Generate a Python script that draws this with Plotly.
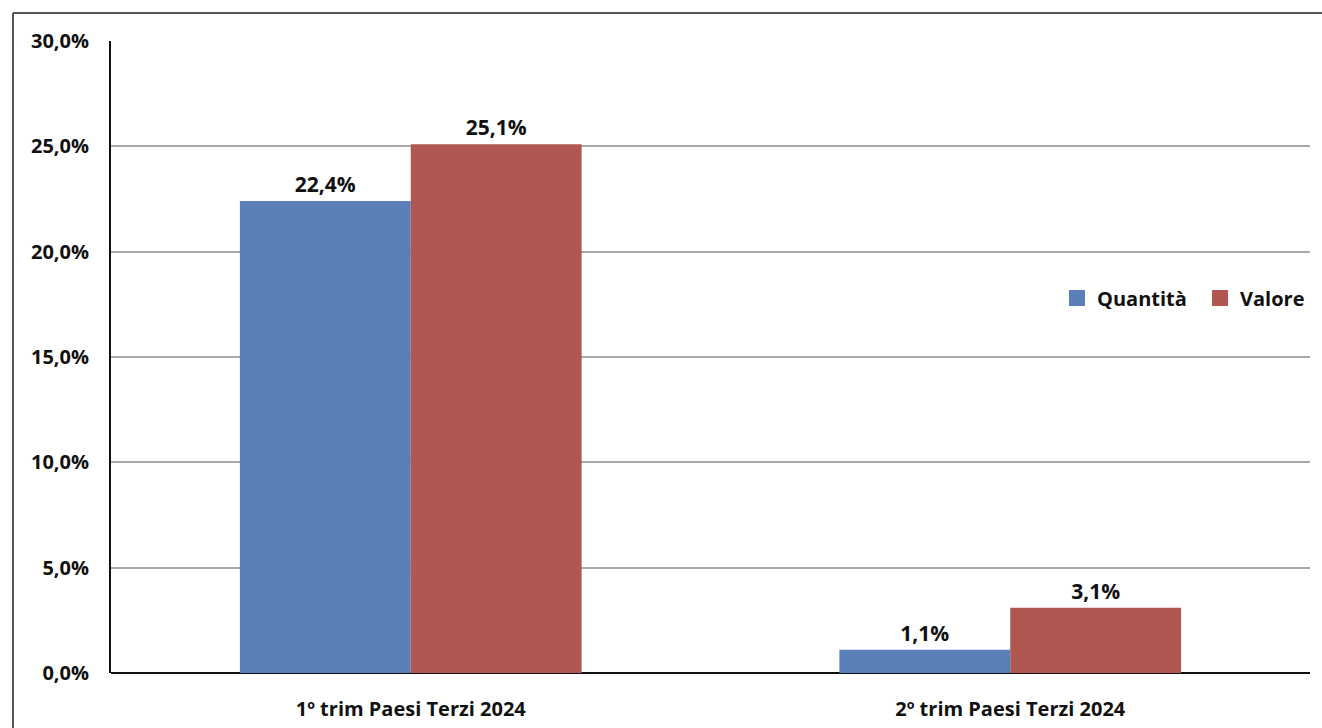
import plotly.graph_objects as go

# Variazione tendenziale export verso Paesi Terzi
categorie = ["1º trim Paesi Terzi 2024", "2º trim Paesi Terzi 2024"]
quantita = [22.4, 1.1]
valore = [25.1, 3.1]
y_ticks = [0, 5, 10, 15, 20, 25, 30]
y_tick_text = [f"{v:.1f}%".replace(".", ",") for v in y_ticks]

serie = [("Quantità", quantita, "#5B7FB8"), ("Valore", valore, "#AF5751")]

W, H = 1322, 728
L, R, T, B = 111, 12, 41, 55
pw, ph = W - L - R, H - T - B

font_fam = "Open Sans"
txt = dict(family=font_fam, size=20, color="#111111", weight="bold")
label_font = dict(family=font_fam, size=21, color="#111111", weight="bold")

fig = go.Figure()
for nome, valori, colore in serie:
    fig.add_trace(go.Bar(
        name=nome, x=categorie, y=valori, showlegend=False,
        marker=dict(color=colore, line=dict(width=0)),
        texttemplate="%{y:.1f}%", textposition="outside",
        textfont=label_font, cliponaxis=False,
    ))
# legend entries with large square swatches
for nome, valori, colore in serie:
    fig.add_trace(go.Scatter(
        name=nome, x=[None], y=[None], mode="markers",
        marker=dict(symbol="square", size=18, color=colore),
        showlegend=True,
    ))


def px_x(x):
    return (x - L) / pw


def px_y(y):
    return (H - B - y) / ph


# outer frame (left and top edges)
frame = dict(color="#555555", width=2)
fig.add_shape(type="line", xref="paper", yref="paper",
              x0=px_x(13), x1=px_x(13), y0=px_y(13), y1=px_y(H + 5), line=frame)
fig.add_shape(type="line", xref="paper", yref="paper",
              x0=px_x(13), x1=px_x(W + 5), y0=px_y(13), y1=px_y(13), line=frame)

fig.update_layout(
    width=W, height=H,
    margin=dict(l=L, r=R, t=T, b=B, autoexpand=False),
    paper_bgcolor="white", plot_bgcolor="white",
    separators=",.",
    barmode="group", bargap=0.43, bargroupgap=0,
    font=txt,
    showlegend=True,
    legend=dict(
        orientation="h", x=px_x(1057), y=px_y(298), xanchor="left", yanchor="middle",
        font=txt, bgcolor="rgba(0,0,0,0)", itemwidth=30, traceorder="normal",
        itemsizing="trace", entrywidth=98, entrywidthmode="pixels",
    ),
    xaxis=dict(
        showgrid=False, showline=False, zeroline=False,
        ticks="", ticklabelstandoff=22, tickfont=txt,
    ),
    yaxis=dict(
        range=[0, 30], tickvals=y_ticks, ticktext=y_tick_text,
        showgrid=True, gridcolor="#A8A8A8", gridwidth=2,
        zeroline=True, zerolinecolor="#111111", zerolinewidth=2,
        showline=True, linecolor="#111111", linewidth=2,
        ticks="", ticklabelstandoff=16, tickfont=txt,
    ),
)

fig.write_html("out.html")
